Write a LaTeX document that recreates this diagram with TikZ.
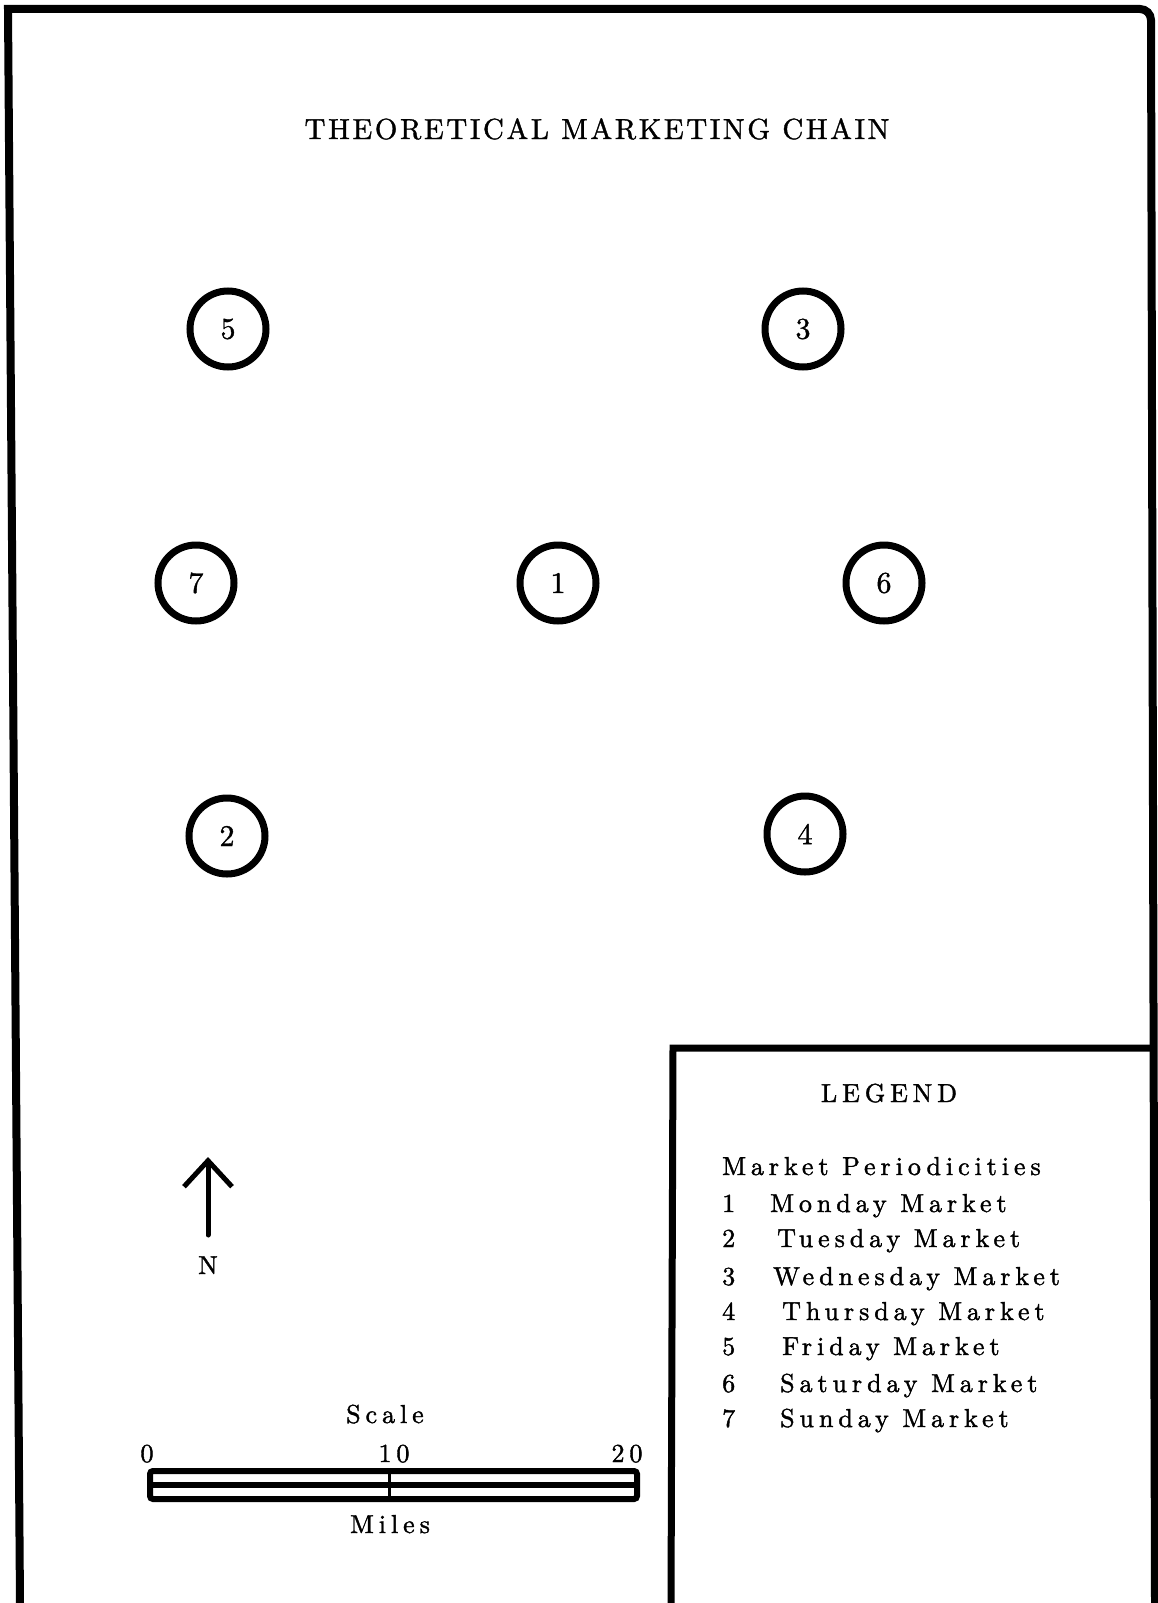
\documentclass[tikz,border=0pt]{standalone}
\usepackage{fontspec}
\setmainfont{lmroman10-regular.otf}[FakeBold=1.2]
\newfontfamily\spacedfont{lmroman10-regular.otf}[LetterSpace=19,FakeBold=1.5]
\newfontfamily\titlefont{lmroman10-regular.otf}[LetterSpace=9,FakeBold=1.2]
\usetikzlibrary{arrows.meta}

\begin{document}
\begin{tikzpicture}[x=1pt,y=-1pt,
  market/.style={draw,circle,line width=7pt,minimum size=76pt,inner sep=0pt,font=\bfseries\fontsize{30}{34}\selectfont},
  txt/.style={inner sep=0pt,font=\spacedfont\bfseries\fontsize{26}{30}\selectfont}]
\useasboundingbox (0,0) rectangle (1158,1603);
% frame and legend box
\draw[line width=8pt] (20,1603) -- (8,9) -- (1140,9) to[out=0,in=90] (1151,20) -- (1155,1603);
\draw[line width=7pt] (671,1603) -- (673,1048) -- (1155,1048);
\node[font=\titlefont\bfseries\fontsize{29}{34}\selectfont,anchor=base] (title) at (597,139) {THEORETICAL MARKETING CHAIN};
% markets
\node[market] (m5) at (228,329) {5};
\node[market] (m3) at (803,329) {3};
\node[market] (m7) at (196,583) {7};
\node[market] (m1) at (558,583) {1};
\node[market] (m6) at (884,583) {6};
\node[market] (m2) at (227,836) {2};
\node[market] (m4) at (805,834) {4};
% north arrow
\node[txt,anchor=base] (north) at (208,1274) {N};
\coordinate (ntail) at (208,1235);
\coordinate (ntip) at (208,1157);
\draw[line width=5pt,line cap=round,-{Straight Barb[length=26pt,width=48pt]}] (ntail) -- (ntip);
% scale bar
\node[txt,anchor=base] (scale) at (385,1423) {Scale};
\node[txt,anchor=base] (s0) at (147,1462) {0};
\node[txt,anchor=base] (s10) at (394,1462) {10};
\node[txt,anchor=base] (s20) at (627,1462) {20};
\draw[line width=6pt,rounded corners=3pt] (150,1471) rectangle (637,1499);
\draw[line width=6pt] (150,1485) -- (637,1485);
\draw[line width=3pt] (389,1471) -- (389,1499);
\node[txt,anchor=base] (miles) at (390,1533) {Miles};
% legend
\node[txt,anchor=base] (legend) at (889,1102) {LEGEND};
\node[txt,anchor=base west] (periods) at (722,1175) {Market Periodicities};
\node[txt,anchor=base west] (d1) at (722,1212) {1};
\node[txt,anchor=base west] (mon) at (770,1212) {Monday Market};
\node[txt,anchor=base west] (d2) at (722,1247) {2};
\node[txt,anchor=base west] (tue) at (777,1247) {Tuesday Market};
\node[txt,anchor=base west] (d3) at (722,1285) {3};
\node[txt,anchor=base west] (wed) at (773,1285) {Wednesday Market};
\node[txt,anchor=base west] (d4) at (722,1320) {4};
\node[txt,anchor=base west] (thu) at (782,1320) {Thursday Market};
\node[txt,anchor=base west] (d5) at (722,1355) {5};
\node[txt,anchor=base west] (fri) at (782,1355) {Friday Market};
\node[txt,anchor=base west] (d6) at (722,1392) {6};
\node[txt,anchor=base west] (sat) at (780,1392) {Saturday Market};
\node[txt,anchor=base west] (d7) at (722,1427) {7};
\node[txt,anchor=base west] (sun) at (780,1427) {Sunday Market};
\end{tikzpicture}
\end{document}
